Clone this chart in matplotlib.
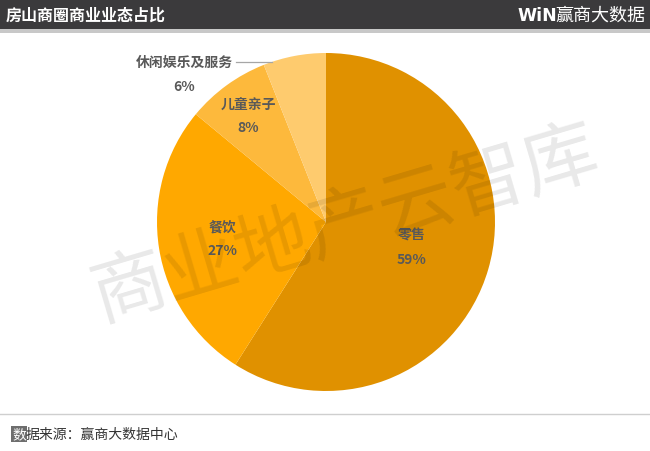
import numpy as np
import matplotlib
matplotlib.use('Agg')
import matplotlib.pyplot as plt
from matplotlib.patches import Rectangle

plt.rcParams['font.family'] = ['Noto Sans CJK SC', 'DejaVu Sans']

# data
categories = ['零售', '餐饮', '儿童亲子', '休闲娱乐及服务']
shares = [59, 27, 8, 6]
colors = ['#E09100', '#FFA800', '#FDB93C', '#FECB6E']
label_dist = [0.53, 0.62, 0.78]

W, H = 650, 452
fig = plt.figure(figsize=(W / 100, H / 100), dpi=100)
fig.patch.set_facecolor('white')

# header bar
fig.patches.append(Rectangle((0, 1 - 30 / H), 1, 30 / H, transform=fig.transFigure,
                             facecolor='#3B3A3C', edgecolor='none', zorder=0))
fig.patches.append(Rectangle((0, 1 - 34 / H), 1, 4 / H, transform=fig.transFigure,
                             facecolor='#C8C8C8', edgecolor='none', zorder=0))
fig.text(6 / W, 1 - 16 / H, '房山商圈商业业态占比', color='white', fontsize=11.5,
         fontweight='bold', va='center', ha='left')
fig.text(517 / W, 1 - 16 / H, 'WiN', color='white', fontsize=12.5, fontweight='bold',
         family=['DejaVu Sans'], va='center', ha='left')
fig.text(555 / W, 1 - 16 / H, '赢商大数据', color='white', fontsize=13,
         va='center', ha='left')

# footer
fig.add_artist(plt.Line2D([0, 1], [1 - 415 / H, 1 - 415 / H], transform=fig.transFigure,
                          color='#CFCFCF', lw=1))
fig.text(12 / W, 1 - 435 / H, '数', color='white', fontsize=10, va='center', ha='left',
         bbox=dict(boxstyle='square,pad=0.05', facecolor='#6E6E6E', edgecolor='none'))
fig.text(26 / W, 1 - 435 / H, '据来源：赢商大数据中心', color='#333333', fontsize=10,
         va='center', ha='left')

# pie
cx, cy, r = 326, 223, 169
ax = fig.add_axes([(cx - r) / W, (H - cy - r) / H, 2 * r / W, 2 * r / H])
wedges, _ = ax.pie(shares, colors=colors, startangle=90, counterclock=False,
                   radius=1, wedgeprops=dict(linewidth=0))
ax.set_xlim(-1, 1)
ax.set_ylim(-1, 1)
ax.set_aspect('equal')
ax.axis('off')

txt_color = '#595959'
for i, w in enumerate(wedges):
    mid = np.deg2rad((w.theta1 + w.theta2) / 2)
    if i < len(label_dist):
        d = label_dist[i]
        ax.text(d * np.cos(mid), d * np.sin(mid), f'{categories[i]}\n{shares[i]}%',
                ha='center', va='center', fontsize=10, fontweight='bold',
                color=txt_color, linespacing=1.9, zorder=5)
    else:
        ey = np.sin(mid) * 0.965
        ax.plot([-0.53, -0.32], [ey, ey], color='#A6A6A6', lw=0.9, clip_on=False)
        ax.text(-0.84, ey, categories[i], ha='center', va='center', fontsize=10,
                fontweight='bold', color=txt_color, zorder=5, clip_on=False)
        ax.text(-0.84, ey - 0.145, f'{shares[i]}%', ha='center', va='center',
                fontsize=10, fontweight='bold', color=txt_color, zorder=5, clip_on=False)

# watermark
fig.text(345 / W, 1 - 225 / H, '商业地产云智库', fontsize=54, fontweight='medium',
         color='#000000', alpha=0.09, rotation=16.5, ha='center', va='center', zorder=10)

fig.savefig('out.png', dpi=100)
